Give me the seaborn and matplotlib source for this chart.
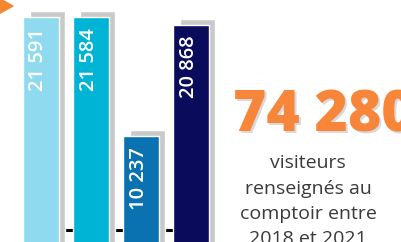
import matplotlib.pyplot as plt
import matplotlib.patches as mpatches
import pandas as pd
import seaborn as sns

# Data
categories = ['2018', '2019', '2020', '2021']
visitors = [21591, 21584, 10237, 20868]
labels = ['21 591', '21 584', '10 237', '20 868']
colors = ['#8fdaee', '#00b4d6', '#0a72b0', '#0b0b5c']
total_label = '74 280'
caption = ['visiteurs', 'renseignés au', 'comptoir entre', '2018 et 2021']

df = pd.DataFrame({'year': categories, 'visitors': visitors})

sns.set_style('white')
plt.rcParams['font.family'] = ['Open Sans', 'DejaVu Sans']

W, H = 401, 242
fig = plt.figure(figsize=(W / 100, H / 100), dpi=100)
ax = fig.add_axes([0, 0, 220 / W, 1])

# grey drop shadows behind each bar
px = 95.4  # data units per pixel (vertical)
for i, v in enumerate(visitors):
    ax.bar(i + 0.13, v + 6 * px, width=0.70, color='#c9c9c9', zorder=1)

# baseline rule between the bars
ax.plot([-0.3, 3.3], [1270, 1270], color='black', lw=2.2, zorder=0.5)

sns.barplot(data=df, x='year', y='visitors', hue='year', palette=colors,
            width=0.72, legend=False, saturation=1, ax=ax, zorder=2)

for i, (v, t) in enumerate(zip(visitors, labels)):
    ax.text(i - 0.05, v - 11 * px, t, rotation=90, ha='center', va='top',
            color='white', fontsize=14.5, fontweight='semibold', zorder=3)

ax.set_xlim(-0.82, 3.58)
ax.set_ylim(120, 23210)
ax.axis('off')

# orange arrow in the corner
tri = mpatches.Polygon([(-5 / W, 1 + 4 / H), (13 / W, 1 - 6 / H), (-5 / W, 1 - 16 / H)],
                       closed=True, transform=fig.transFigure, color='#f5872f')
fig.patches.append(tri)

# headline figure
fig.text(233 / W + 1.5 / W, 1 - 132 / H - 1.5 / H, total_label, ha='left', va='baseline',
         fontsize=41, fontweight='heavy', color='#d9d9d9')
fig.text(233 / W, 1 - 132 / H, total_label, ha='left', va='baseline',
         fontsize=41, fontweight='heavy', color='#f7863a')

for k, line in enumerate(caption):
    fig.text(308 / W, 1 - (168 + 25.5 * k) / H, line, ha='center', va='baseline',
             fontsize=14, color='#3a3a3a')

fig.savefig('out.png', dpi=100)
